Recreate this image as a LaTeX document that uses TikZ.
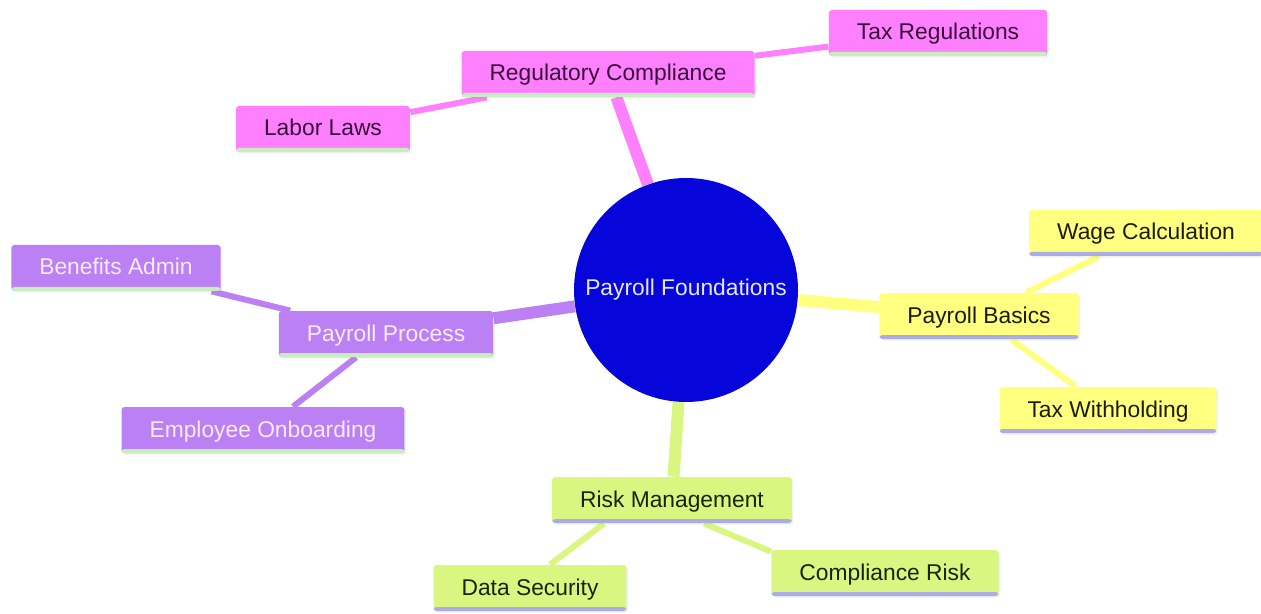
\documentclass[tikz,border=0pt]{standalone}
\usepackage{fontspec}
\setmainfont{Liberation Sans}
\usepackage{tikz}
\usetikzlibrary{positioning}
\usetikzlibrary{shadows}
\pgfdeclarelayer{background}
\pgfsetlayers{background,main}

\definecolor{PinkFill}{HTML}{FF80FF}
\definecolor{PinkText}{HTML}{3A0C3A}
\definecolor{LilacFill}{HTML}{BC80F5}
\definecolor{LilacText}{HTML}{FBEAFF}
\definecolor{LemonFill}{HTML}{FFFF80}
\definecolor{LemonText}{HTML}{1C1C05}
\definecolor{LimeFill}{HTML}{D9F780}
\definecolor{LimeText}{HTML}{18240A}
\definecolor{CoreFill}{HTML}{0606DA}
\definecolor{CoreText}{HTML}{E6E6FF}
\definecolor{StripeGreen}{HTML}{C6EEC0}
\definecolor{StripeLavender}{HTML}{ABABE6}

\begin{document}
\begin{tikzpicture}[x=0.5pt, y=-0.5pt,
	stripe/.style={path picture={\fill[#1] ([yshift=2pt]path picture bounding box.south west) rectangle (path picture bounding box.south east);}},
	box/.style={rectangle, rounded corners=1.5pt, inner xsep=14pt, minimum height=23pt,
		text height=8.6pt, text depth=1.6pt,
		font=\fontsize{11.4}{13}\selectfont,
		drop shadow={opacity=0.12, shadow xshift=0.8pt, shadow yshift=-0.8pt}},
	pinkbox/.style={box, fill=PinkFill, text=PinkText, stripe=StripeGreen},
	lilacbox/.style={box, fill=LilacFill, text=LilacText, stripe=StripeGreen},
	lemonbox/.style={box, fill=LemonFill, text=LemonText, stripe=StripeLavender},
	limebox/.style={box, fill=LimeFill, text=LimeText, stripe=StripeLavender},
	trunk/.style={line width=6pt, draw=#1},
	twig/.style={line width=3pt, draw=#1}]

	\useasboundingbox (0,0) rectangle (1261,614);

	% ---------------------
	% Root
	\node[circle, fill=CoreFill, text=CoreText, minimum size=112pt, inner sep=0pt,
		font=\fontsize{11.4}{13}\selectfont] (Foundations) at (686,290) {Payroll Foundations};

	% ---------------------
	% Regulatory branch
	\node[pinkbox] (RegCompliance) at (608,74)  {Regulatory Compliance};
	\node[pinkbox] (TaxRegulations) at (938,33) {Tax Regulations};
	\node[pinkbox] (LaborLaws) at (323,129)     {Labor Laws};

	% ---------------------
	% Basics branch
	\node[lemonbox] (PayrollBasics) at (979,316)   {Payroll Basics};
	\node[lemonbox] (WageCalculation) at (1146,233) {Wage Calculation};
	\node[lemonbox] (TaxWithholding) at (1108,410) {Tax Withholding};

	% ---------------------
	% Risk branch
	\node[limebox] (RiskManagement) at (672,500) {Risk Management};
	\node[limebox] (DataSecurity) at (530,588)   {Data Security};
	\node[limebox] (ComplianceRisk) at (885,573) {Compliance Risk};

	% ---------------------
	% Process branch
	\node[lilacbox] (PayrollProcess) at (386,334)  {Payroll Process};
	\node[lilacbox] (BenefitsAdmin) at (116,268)   {Benefits Admin};
	\node[lilacbox] (EmployeeOnboarding) at (263,430) {Employee Onboarding};

	% ------------------------------------------------
	% Connectors
	\path (RiskManagement.south) +(-68,0) coordinate (RiskLeft);
	\path (RiskManagement.south) +(32,0)  coordinate (RiskRight);
	\path (DataSecurity.north)   +(20,0)  coordinate (SecurityTop);
	\path (ComplianceRisk.north west) +(0,2) coordinate (ComplianceTop);

	\begin{pgfonlayer}{background}
		\draw[trunk=PinkFill]  (Foundations) -- (RegCompliance);
		\draw[trunk=LemonFill] (Foundations) -- (PayrollBasics);
		\draw[trunk=LimeFill]  (Foundations) -- (RiskManagement);
		\draw[trunk=LilacFill] (Foundations) -- (PayrollProcess);

		\draw[twig=PinkFill]  (RegCompliance) -- (TaxRegulations);
		\draw[twig=PinkFill]  (RegCompliance) -- (LaborLaws);
		\draw[twig=LemonFill] (PayrollBasics) -- (WageCalculation);
		\draw[twig=LemonFill] (PayrollBasics) -- (TaxWithholding);
		\draw[twig=LimeFill]  (RiskLeft) -- (SecurityTop);
		\draw[twig=LimeFill]  (RiskRight) -- (ComplianceTop);
		\draw[twig=LilacFill] (PayrollProcess) -- (BenefitsAdmin);
		\draw[twig=LilacFill] (PayrollProcess) -- (EmployeeOnboarding);
	\end{pgfonlayer}

\end{tikzpicture}
\end{document}
